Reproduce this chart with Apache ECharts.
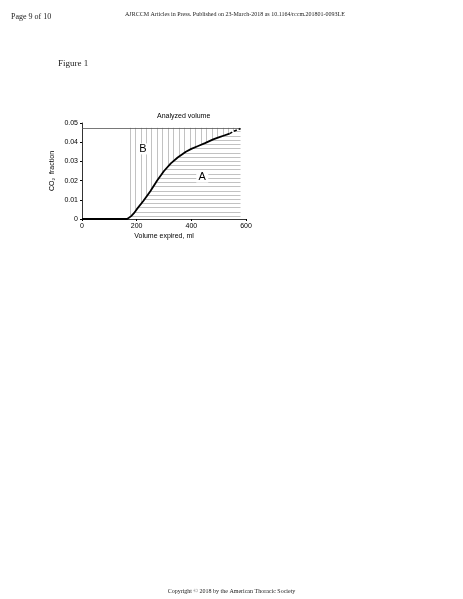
<!DOCTYPE html><html><head><meta charset="utf-8"><script src="https://cdn.jsdelivr.net/npm/echarts@6/dist/echarts.min.js"></script>
<style>body{margin:0;background:#fff}#c{width:463px;height:599px}</style></head><body><div id="c"></div><script>
const baseX=[0,50,100,150,165];
const baseY=[0,0,0,0,0];
const curveX=[170,180,190,200,225,250,275,300,325,350,380,400,425,450,480,500,520,540,560,580];
const curveY=[0.0005,0.0015,0.003,0.005,0.0095,0.0145,0.020,0.025,0.029,0.032,0.035,0.0365,0.038,0.0395,0.0415,0.0425,0.0435,0.0445,0.046,0.047];
const topLevel=0.0475;
const dashFrom=540;
const hatchStepX=20, hatchStepY=0.0022;
const pts=curveX.map((x,i)=>[x,curveY[i]]);
const solid=pts.filter(p=>p[0]<=dashFrom);
const dashed=pts.filter(p=>p[0]>=dashFrom);
function yAt(x){for(let i=1;i<pts.length;i++){if(x<=pts[i][0]){const a=pts[i-1],b=pts[i];return a[1]+(b[1]-a[1])*(x-a[0])/(b[0]-a[0]);}}return pts[pts.length-1][1];}
function xAt(y){for(let i=1;i<pts.length;i++){if(y<=pts[i][1]){const a=pts[i-1],b=pts[i];return a[0]+(b[0]-a[0])*(y-a[1])/(b[1]-a[1]);}}return 580;}
const hatch=[];
for(let x=175;x<580;x+=hatchStepX)hatch.push([{coord:[x,yAt(x)]},{coord:[x,topLevel]}]);
for(let y=0.0015;y<0.047;y+=hatchStepY)hatch.push([{coord:[xAt(y),y]},{coord:[580,y]}]);
const f='Liberation Sans, Arial';
const ch=echarts.init(document.getElementById('c'));
ch.setOption({
animation:false,
grid:{left:82,right:217,top:123,bottom:380},
title:[
{text:'Page 9 of 10',left:6,top:8,textStyle:{fontFamily:'Liberation Serif',fontSize:8,fontWeight:'normal',color:'#222'}},
{text:'AJRCCM Articles in Press. Published on 23-March-2018 as 10.1164/rccm.201801-0093LE',left:120,top:6,textStyle:{fontFamily:'Liberation Serif',fontSize:6,fontWeight:'normal',color:'#222'}},
{text:'Figure 1',left:53,top:54,textStyle:{fontFamily:'Liberation Serif',fontSize:9,fontWeight:'normal',color:'#222'}},
{text:'Copyright © 2018 by the American Thoracic Society',left:'center',top:583,textStyle:{fontFamily:'Liberation Serif',fontSize:6,fontWeight:'normal',color:'#222'}},
{text:'Analyzed volume',left:152,top:108,textStyle:{fontFamily:f,fontSize:7,fontWeight:'normal',color:'#000'}}
],
xAxis:{type:'value',min:0,max:600,interval:200,name:'Volume expired, ml',nameLocation:'middle',nameGap:14,nameTextStyle:{fontFamily:f,fontSize:7,color:'#000'},
axisLine:{lineStyle:{color:'#000',width:0.8}},axisTick:{show:true,length:2,lineStyle:{color:'#000'}},splitLine:{show:false},axisLabel:{fontFamily:f,fontSize:7,color:'#000',margin:4}},
yAxis:{type:'value',min:0,max:0.05,interval:0.01,name:'CO₂  fraction',nameLocation:'middle',nameGap:26,nameTextStyle:{fontFamily:f,fontSize:7,color:'#000'},
axisLine:{show:true,lineStyle:{color:'#000',width:0.8}},axisTick:{show:true,length:2,lineStyle:{color:'#000'}},splitLine:{show:false},axisLabel:{fontFamily:f,fontSize:7,color:'#000',margin:4,formatter:v=>v===0?'0':v.toFixed(2)}},
series:[
{type:'line',data:[],markLine:{silent:true,symbol:'none',label:{show:false},lineStyle:{color:'#999',type:'solid',width:0.6},data:hatch},z:1},
{type:'line',data:baseX.map((x,i)=>[x,baseY[i]]).concat(solid),symbol:'none',lineStyle:{color:'#000',width:1.8},z:5,clip:false,
 markLine:{silent:true,symbol:'none',label:{show:false},lineStyle:{color:'#555',type:'solid',width:0.8},data:[
  [{coord:[0,topLevel]},{coord:[580,topLevel]}],
  [{coord:[170,0]},{coord:[170,0.0535]}],
  [{coord:[580,0]},{coord:[580,0.0535]}]]},
 markPoint:{symbol:'rect',symbolSize:[12,11],itemStyle:{color:'#fff'},label:{show:true,color:'#000',fontFamily:f,fontSize:11},data:[
  {coord:[223,0.0365],value:'B'},{coord:[440,0.0218],value:'A'}]}},
{type:'line',data:dashed,symbol:'none',lineStyle:{color:'#000',width:1.5,type:[3,2]},z:5,clip:false,
 markLine:{silent:true,symbol:['arrow','arrow'],symbolSize:4,label:{show:false},lineStyle:{color:'#000',type:'solid',width:0.8},data:[
  [{coord:[170,0.0523]},{coord:[580,0.0523]}]]}}
]});
</script></body></html>
